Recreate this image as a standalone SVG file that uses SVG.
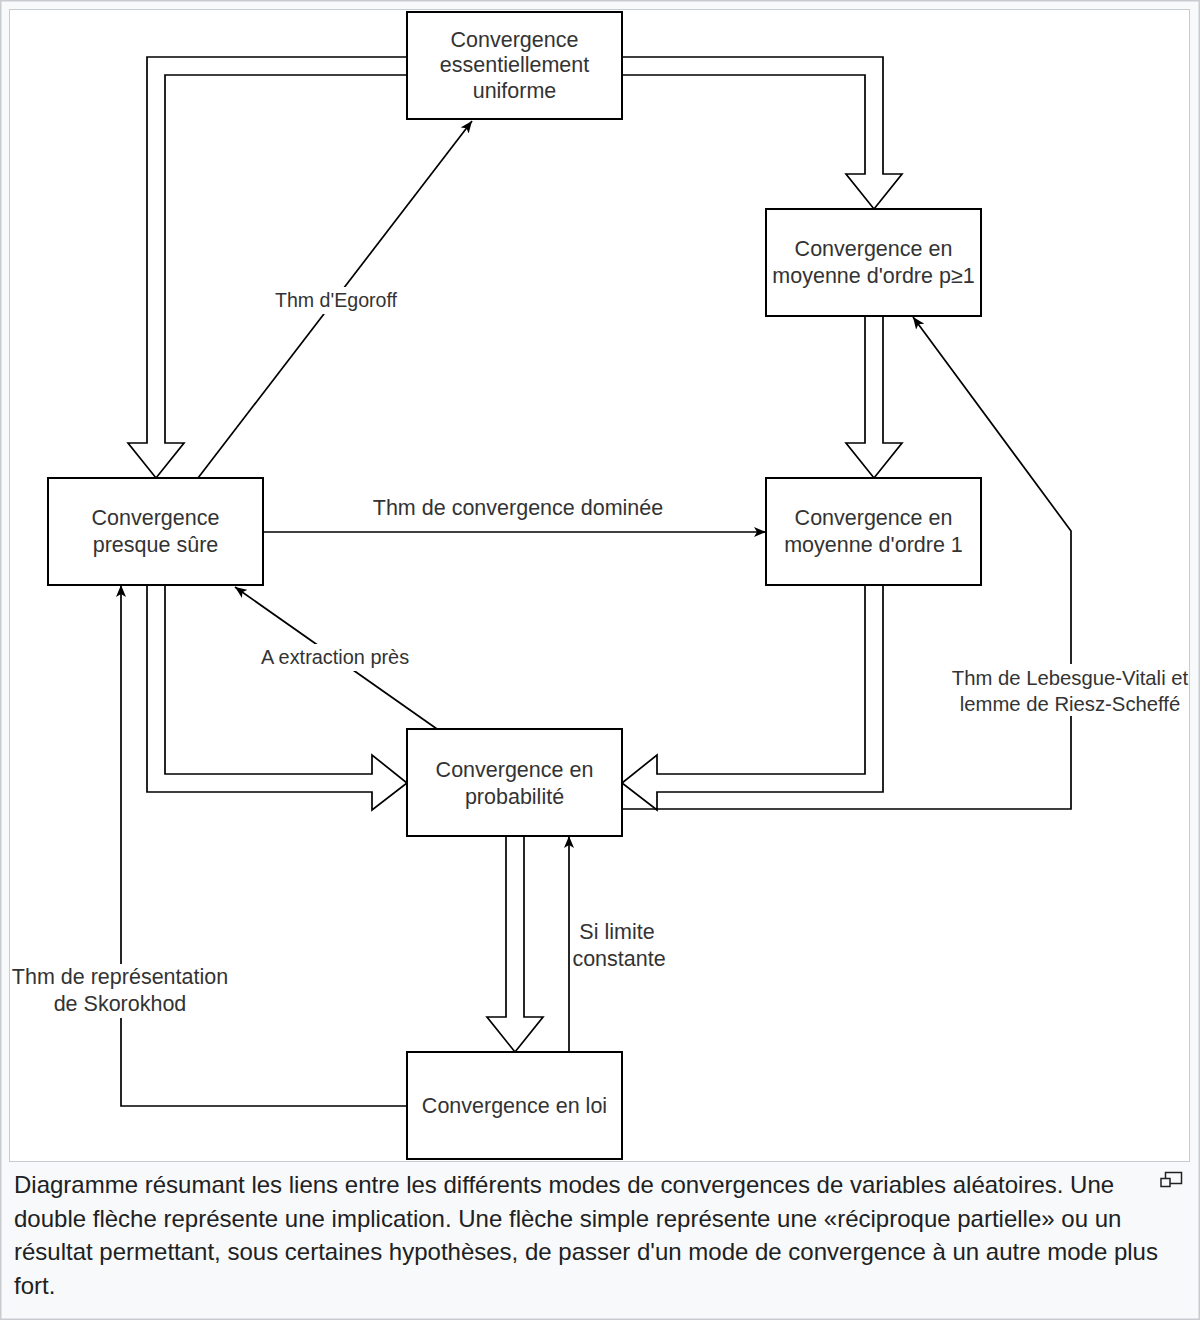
<svg xmlns="http://www.w3.org/2000/svg" width="1200" height="1320" viewBox="0 0 1200 1320">
<defs>
<style>
.node rect{fill:#fff;stroke:#000;stroke-width:2}
.t{font-family:"Liberation Sans",Arial,sans-serif;font-size:21.5px;fill:#333;text-anchor:middle}
.dbl{fill:#fff;stroke:#000;stroke-width:1.7;stroke-linejoin:miter}
.sgl{fill:none;stroke:#000;stroke-width:1.7}
.bg{fill:#fff}
.cap{font-family:"Liberation Sans",Arial,sans-serif;font-size:24px;fill:#202122}
</style>
<marker id="arr" viewBox="0 0 12 10" refX="12" refY="5" markerWidth="12" markerHeight="10" markerUnits="userSpaceOnUse" orient="auto">
<path d="M0,0 L12,5 L0,10 L3,5 z" fill="#000"/>
</marker>
</defs>
<rect x="0.5" y="0.5" width="1199" height="1319" fill="#f8f9fa" stroke="#c8ccd1" stroke-width="2"/>
<rect x="9.5" y="9.5" width="1180" height="1152" fill="#fff" stroke="#c8ccd1" stroke-width="1"/>

<g id="connectors">
<path class="dbl" d="M407,57 H147 V443 H128 L156,478 L184,443 H165 V75 H407"/>
<path class="dbl" d="M622,57 H883 V174 H902 L874,209 L846,174 H865 V75 H622"/>
<path class="dbl" d="M865,316 V443 H846 L874,478 L902,443 H883 V316"/>
<path class="dbl" d="M865,585 V774 H657 V755 L622,783 L657,810 V792 H883 V585"/>
<path class="dbl" d="M165,585 V774 H372 V755 L407,783 L372,810 V792 H147 V585"/>
<path class="dbl" d="M506,836 V1017 H487 L515,1052 L543,1017 H524 V836"/>

<path class="sgl" d="M198,478 L472,121" marker-end="url(#arr)"/>
<path class="sgl" d="M263,532 L766,532" marker-end="url(#arr)"/>
<path class="sgl" d="M437,729 L235,587" marker-end="url(#arr)"/>
<path class="sgl" d="M569,1052 L569,836" marker-end="url(#arr)"/>
<path class="sgl" d="M407,1106 H121 V585" marker-end="url(#arr)"/>
<path class="sgl" d="M622,809 H1071 V531 L913,317" marker-end="url(#arr)"/>

<rect class="bg" x="274" y="287" width="124" height="27"/>
<text class="t" x="336" y="307" style="font-size:19.6px">Thm d'Egoroff</text>
<text class="t" x="518" y="515">Thm de convergence dominée</text>
<rect class="bg" x="260" y="644" width="150" height="27"/>
<text class="t" x="335" y="664" style="font-size:19.9px">A extraction près</text>
<rect class="bg" x="952" y="664" width="236" height="52"/>
<text class="t" x="1070" y="685" style="font-size:20.3px">Thm de Lebesgue-Vitali et</text>
<text class="t" x="1070" y="711" style="font-size:20.3px">lemme de Riesz-Scheffé</text>
<text class="t" x="617" y="939">Si limite</text>
<text class="t" x="619" y="966">constante</text>
<rect class="bg" x="12" y="964" width="218" height="54"/>
<text class="t" x="120" y="984">Thm de représentation</text>
<text class="t" x="120" y="1011">de Skorokhod</text>
</g>

<g id="n-uniforme" class="node">
<rect x="407" y="12" width="215" height="107"/>
<text class="t" x="514.5" y="47">Convergence</text>
<text class="t" x="514.5" y="72">essentiellement</text>
<text class="t" x="514.5" y="98">uniforme</text>
</g>
<g id="n-moyenne-p" class="node">
<rect x="766" y="209" width="215" height="107"/>
<text class="t" x="873.5" y="256">Convergence en</text>
<text class="t" x="873.5" y="283">moyenne d'ordre p≥1</text>
</g>
<g id="n-presque-sure" class="node">
<rect x="48" y="478" width="215" height="107"/>
<text class="t" x="155.5" y="525">Convergence</text>
<text class="t" x="155.5" y="552">presque sûre</text>
</g>
<g id="n-moyenne-1" class="node">
<rect x="766" y="478" width="215" height="107"/>
<text class="t" x="873.5" y="525">Convergence en</text>
<text class="t" x="873.5" y="552">moyenne d'ordre 1</text>
</g>
<g id="n-probabilite" class="node">
<rect x="407" y="729" width="215" height="107"/>
<text class="t" x="514.5" y="777">Convergence en</text>
<text class="t" x="514.5" y="804">probabilité</text>
</g>
<g id="n-loi" class="node">
<rect x="407" y="1052" width="215" height="107"/>
<text class="t" x="514.5" y="1113">Convergence en loi</text>
</g>

<g id="caption">
<text class="cap" x="14" y="1193">Diagramme résumant les liens entre les différents modes de convergences de variables aléatoires. Une</text>
<text class="cap" x="14" y="1227">double flèche représente une implication. Une flèche simple représente une «réciproque partielle» ou un</text>
<text class="cap" x="14" y="1260">résultat permettant, sous certaines hypothèses, de passer d'un mode de convergence à un autre mode plus</text>
<text class="cap" x="14" y="1294">fort.</text>
<rect x="1165.5" y="1172.5" width="16" height="11" fill="none" stroke="#202122" stroke-width="1.5"/>
<rect x="1161" y="1178.5" width="9" height="8" fill="#f8f9fa" stroke="#202122" stroke-width="1.5"/>
</g>
</svg>
